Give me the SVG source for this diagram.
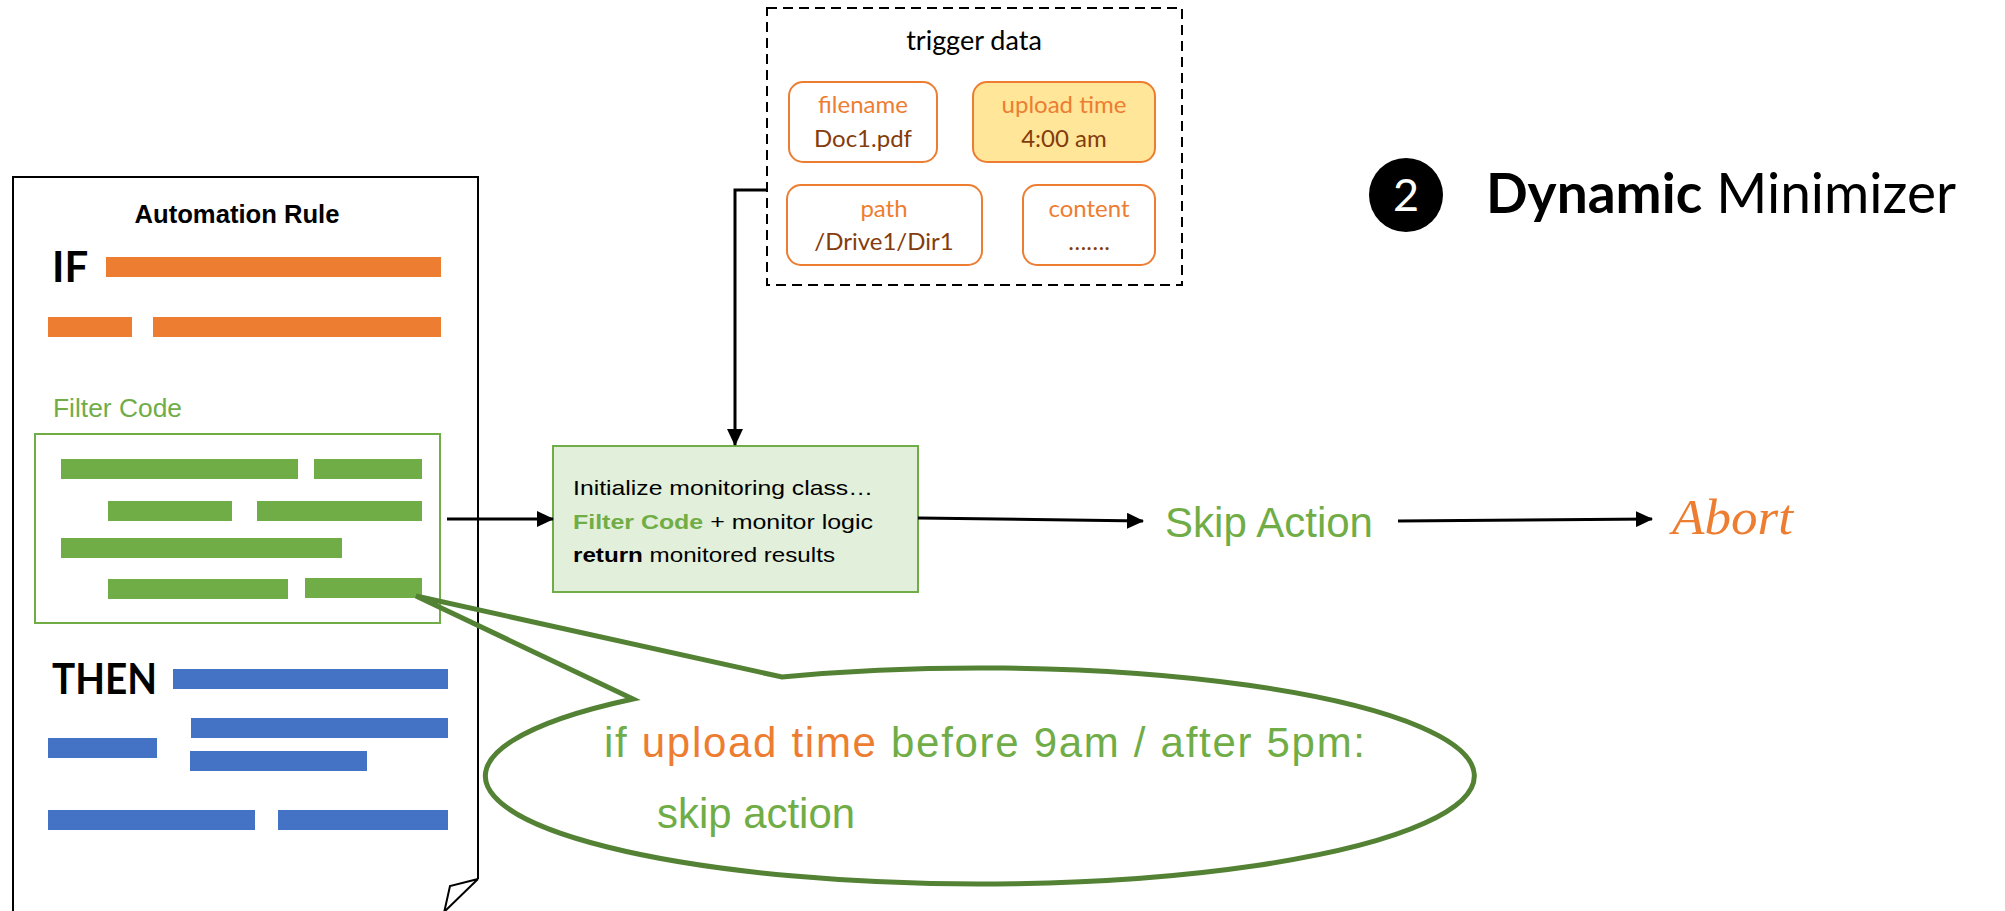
<svg xmlns="http://www.w3.org/2000/svg" width="2005" height="911" viewBox="0 0 2005 911">
<style>
.or{fill:#ED7D31}
.gr{fill:#70AD47}
.bl{fill:#4472C4}
.cal{font-family:Lato,"Liberation Sans",sans-serif}
.geo{font-family:"Liberation Sans",Arial,sans-serif}
.conn{stroke:#000;stroke-width:3;fill:none}
.fbox{fill:#fff;stroke:#ED7D31;stroke-width:2}
.lbl{fill:#ED7D31;font-size:24px;text-anchor:middle}
.val{fill:#843C0C;font-size:24px;text-anchor:middle}
</style>
<defs>
<marker id="ah" markerUnits="userSpaceOnUse" markerWidth="18" markerHeight="16" refX="16" refY="8" orient="auto">
<path d="M0,0 L17,8 L0,16 Z" fill="#000"/>
</marker>
</defs>
<rect width="2005" height="911" fill="#fff"/>

<g id="rule-document">
<path d="M13,925 L13,177 L478,177 L478,879" fill="none" stroke="#000" stroke-width="2"/>
<path d="M478,879 L450,886 L444,913 M478,879 L443,913" fill="none" stroke="#000" stroke-width="2"/>
<text x="237" y="223" class="geo" font-size="25" font-weight="bold" text-anchor="middle" fill="#000" textLength="205" lengthAdjust="spacingAndGlyphs">Automation Rule</text>
<text x="52" y="282" class="cal" font-size="42" font-weight="bold" fill="#000">IF</text>
<rect x="106" y="257" width="335" height="20" class="or"/>
<rect x="48" y="317" width="84" height="20" class="or"/>
<rect x="153" y="317" width="288" height="20" class="or"/>
<text x="53" y="417" class="geo" font-size="25" fill="#70AD47" textLength="129" lengthAdjust="spacingAndGlyphs">Filter Code</text>
<rect x="35" y="434" width="405" height="189" fill="none" stroke="#70AD47" stroke-width="2"/>
<rect x="61" y="459" width="237" height="20" class="gr"/>
<rect x="314" y="459" width="108" height="20" class="gr"/>
<rect x="108" y="501" width="124" height="20" class="gr"/>
<rect x="257" y="501" width="165" height="20" class="gr"/>
<rect x="61" y="538" width="281" height="20" class="gr"/>
<rect x="108" y="579" width="180" height="20" class="gr"/>
<rect x="305" y="578" width="117" height="20" class="gr"/>
<text x="52" y="694" class="cal" font-size="42" font-weight="bold" fill="#000" textLength="105" lengthAdjust="spacingAndGlyphs">THEN</text>
<rect x="173" y="669" width="275" height="20" class="bl"/>
<rect x="191" y="718" width="257" height="20" class="bl"/>
<rect x="48" y="738" width="109" height="20" class="bl"/>
<rect x="190" y="751" width="177" height="20" class="bl"/>
<rect x="48" y="810" width="207" height="20" class="bl"/>
<rect x="278" y="810" width="170" height="20" class="bl"/>
</g>

<g id="trigger-data">
<rect x="767" y="8" width="415" height="277" fill="none" stroke="#000" stroke-width="2" stroke-dasharray="10,6"/>
<text x="974" y="50" class="cal" font-size="27" text-anchor="middle" fill="#000">trigger data</text>
<g id="field-filename">
<rect x="789" y="82" width="148" height="80" rx="14" class="fbox"/>
<text x="863" y="113" class="cal lbl">filename</text>
<text x="863" y="147" class="cal val">Doc1.pdf</text>
</g>
<g id="field-upload-time">
<rect x="973" y="82" width="182" height="80" rx="14" class="fbox" style="fill:#FFE699"/>
<text x="1064" y="113" class="cal lbl">upload time</text>
<text x="1064" y="147" class="cal val">4:00 am</text>
</g>
<g id="field-path">
<rect x="787" y="185" width="195" height="80" rx="14" class="fbox"/>
<text x="884" y="217" class="cal lbl">path</text>
<text x="884" y="250" class="cal val">/Drive1/Dir1</text>
</g>
<g id="field-content">
<rect x="1023" y="185" width="132" height="80" rx="14" class="fbox"/>
<text x="1089" y="217" class="cal lbl">content</text>
<text x="1089" y="250" class="cal val">…….</text>
</g>
</g>

<g id="monitor-box">
<rect x="553" y="446" width="365" height="146" fill="#E2EFDA" stroke="#70AD47" stroke-width="2"/>
<text x="573" y="495" class="geo" font-size="21" fill="#000" textLength="300" lengthAdjust="spacingAndGlyphs">Initialize monitoring class…</text>
<text x="573" y="529" class="geo" font-size="21" fill="#000" textLength="300" lengthAdjust="spacingAndGlyphs"><tspan font-weight="bold" fill="#70AD47">Filter Code</tspan> + monitor logic</text>
<text x="573" y="562" class="geo" font-size="21" fill="#000" textLength="262" lengthAdjust="spacingAndGlyphs"><tspan font-weight="bold">return</tspan> monitored results</text>
</g>

<g id="skip-action">
<text x="1165" y="537" class="geo" font-size="42" fill="#70AD47" textLength="208" lengthAdjust="spacingAndGlyphs">Skip Action</text>
</g>

<g id="abort">
<text x="1672" y="534" font-family="'Liberation Serif',serif" font-style="italic" font-size="50" fill="#ED7D31" textLength="121" lengthAdjust="spacingAndGlyphs">Abort</text>
</g>

<g id="callout">
<path d="M633,699 L416,596 L782,677 A494.5,108 0 1,1 633,699 Z" fill="none" stroke="#548235" stroke-width="5" stroke-linejoin="miter"/>
<text x="604" y="757" class="geo" font-size="42" fill="#70AD47" textLength="761" lengthAdjust="spacing">if <tspan fill="#ED7D31">upload time</tspan> before 9am / after 5pm:</text>
<text x="657" y="828" class="geo" font-size="42" fill="#70AD47" textLength="198" lengthAdjust="spacingAndGlyphs">skip action</text>
</g>

<g id="title">
<circle cx="1406" cy="195" r="37" fill="#000"/>
<text x="1406" y="211" class="cal" font-size="45" fill="#fff" text-anchor="middle">2</text>
<text x="1486" y="213" class="cal" font-size="56" fill="#000" textLength="470" lengthAdjust="spacingAndGlyphs"><tspan font-weight="bold">Dynamic</tspan> Minimizer</text>
</g>

<g id="connectors">
<path class="conn" d="M447,519 L553,519" marker-end="url(#ah)"/>
<path class="conn" d="M767,190 L735,190 L735,445" marker-end="url(#ah)"/>
<path class="conn" d="M918,518 L1143,521" marker-end="url(#ah)"/>
<path class="conn" d="M1398,521 L1652,519" marker-end="url(#ah)"/>
</g>
</svg>
